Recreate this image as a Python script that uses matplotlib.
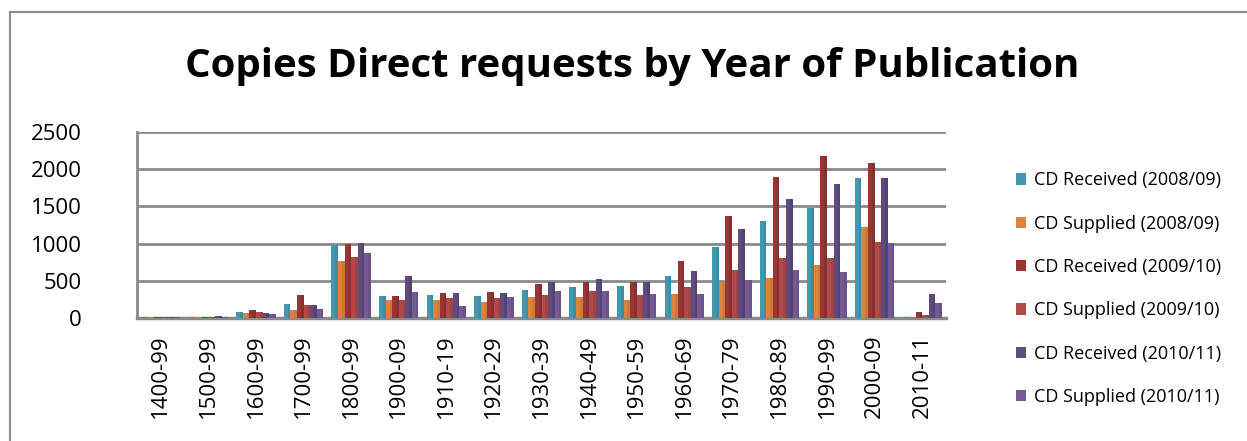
import numpy as np
import matplotlib.pyplot as plt
from matplotlib.patches import Rectangle

# data
periods = ["1400-99", "1500-99", "1600-99", "1700-99", "1800-99", "1900-09",
           "1910-19", "1920-29", "1930-39", "1940-49", "1950-59", "1960-69",
           "1970-79", "1980-89", "1990-99", "2000-09", "2010-11"]
series_names = ["CD Received (2008/09)", "CD Supplied (2008/09)",
                "CD Received (2009/10)", "CD Supplied (2009/10)",
                "CD Received (2010/11)", "CD Supplied (2010/11)"]
rec_0809 = [15, 12, 80, 185, 985, 290, 310, 300, 375, 410, 430, 565, 960, 1305, 1480, 1875, 8]
sup_0809 = [10, 10, 65, 112, 760, 242, 242, 220, 282, 282, 242, 323, 485, 538, 712, 1220, 5]
rec_0910 = [18, 20, 110, 310, 1000, 298, 342, 348, 455, 490, 490, 772, 1370, 1895, 2175, 2085, 75]
sup_0910 = [14, 15, 75, 180, 815, 242, 270, 270, 310, 358, 310, 421, 645, 806, 806, 1025, 44]
rec_1011 = [16, 22, 65, 180, 1010, 560, 342, 340, 488, 522, 484, 627, 1200, 1600, 1800, 1875, 318]
sup_1011 = [12, 18, 48, 120, 870, 355, 165, 288, 358, 367, 327, 327, 510, 640, 618, 1008, 195]
all_series = [rec_0809, sup_0809, rec_0910, sup_0910, rec_1011, sup_1011]

colors = ["#4198af", "#db843d", "#953735", "#b04a48", "#5f4b7f", "#745a95"]
side_colors = ["#2f7a8e", "#b5682a", "#6e2626", "#8a3634", "#45365f", "#594575"]

plt.rcParams["font.family"] = "Open Sans"

fig = plt.figure(figsize=(12.47, 4.41), dpi=100)

# outer chart border
fig.patches.append(Rectangle((10 / 1247, -0.1), 1.2, 1 - 12 / 441 + 0.1,
                             transform=fig.transFigure, fill=False,
                             edgecolor="#8c8c8c", linewidth=1.5))

ax = fig.add_axes([137 / 1247, 1 - 318 / 441, (946 - 137) / 1247, (318 - 132) / 441])

x = np.arange(len(periods))
w = 0.138
for i, vals in enumerate(all_series):
    xs = x + (i - 2.5) * w
    ax.bar(xs, vals, width=w, color=colors[i], label=series_names[i], zorder=3,
           linewidth=0)
    # thin darker side to mimic the 3-D look
    ax.bar(xs + w * 0.3, vals, width=w * 0.4, color=side_colors[i], zorder=3,
           linewidth=0, alpha=0.35)

ax.set_xlim(-0.5, len(periods) - 0.5)
ax.set_ylim(0, 2500)
ax.set_yticks(range(0, 2501, 500))
ax.yaxis.grid(True, color="#8a8a8a", linewidth=2, zorder=0)
ax.set_axisbelow(True)
for s in ["top", "right"]:
    ax.spines[s].set_visible(False)
ax.spines["left"].set_color("#8a8a8a")
ax.spines["left"].set_linewidth(2)
ax.spines["bottom"].set_color("#8a8a8a")
ax.spines["bottom"].set_linewidth(2.5)
ax.set_xticks(x)
ax.set_xticklabels(periods, rotation=90)
ax.tick_params(axis="both", length=0, labelsize=16)
ax.tick_params(axis="y", pad=40)
ax.tick_params(axis="x", pad=12)

fig.text(0.507, 0.85, "Copies Direct requests by Year of Publication",
         ha="center", va="center", fontsize=29, fontweight="bold")

leg = ax.legend(loc="upper left", bbox_to_anchor=(1.066, 0.875), frameon=False,
                prop={"size": 13}, handlelength=0.6,
                handleheight=0.6, handletextpad=0.4, labelspacing=1.4)

fig.savefig("out.png", dpi=100)
